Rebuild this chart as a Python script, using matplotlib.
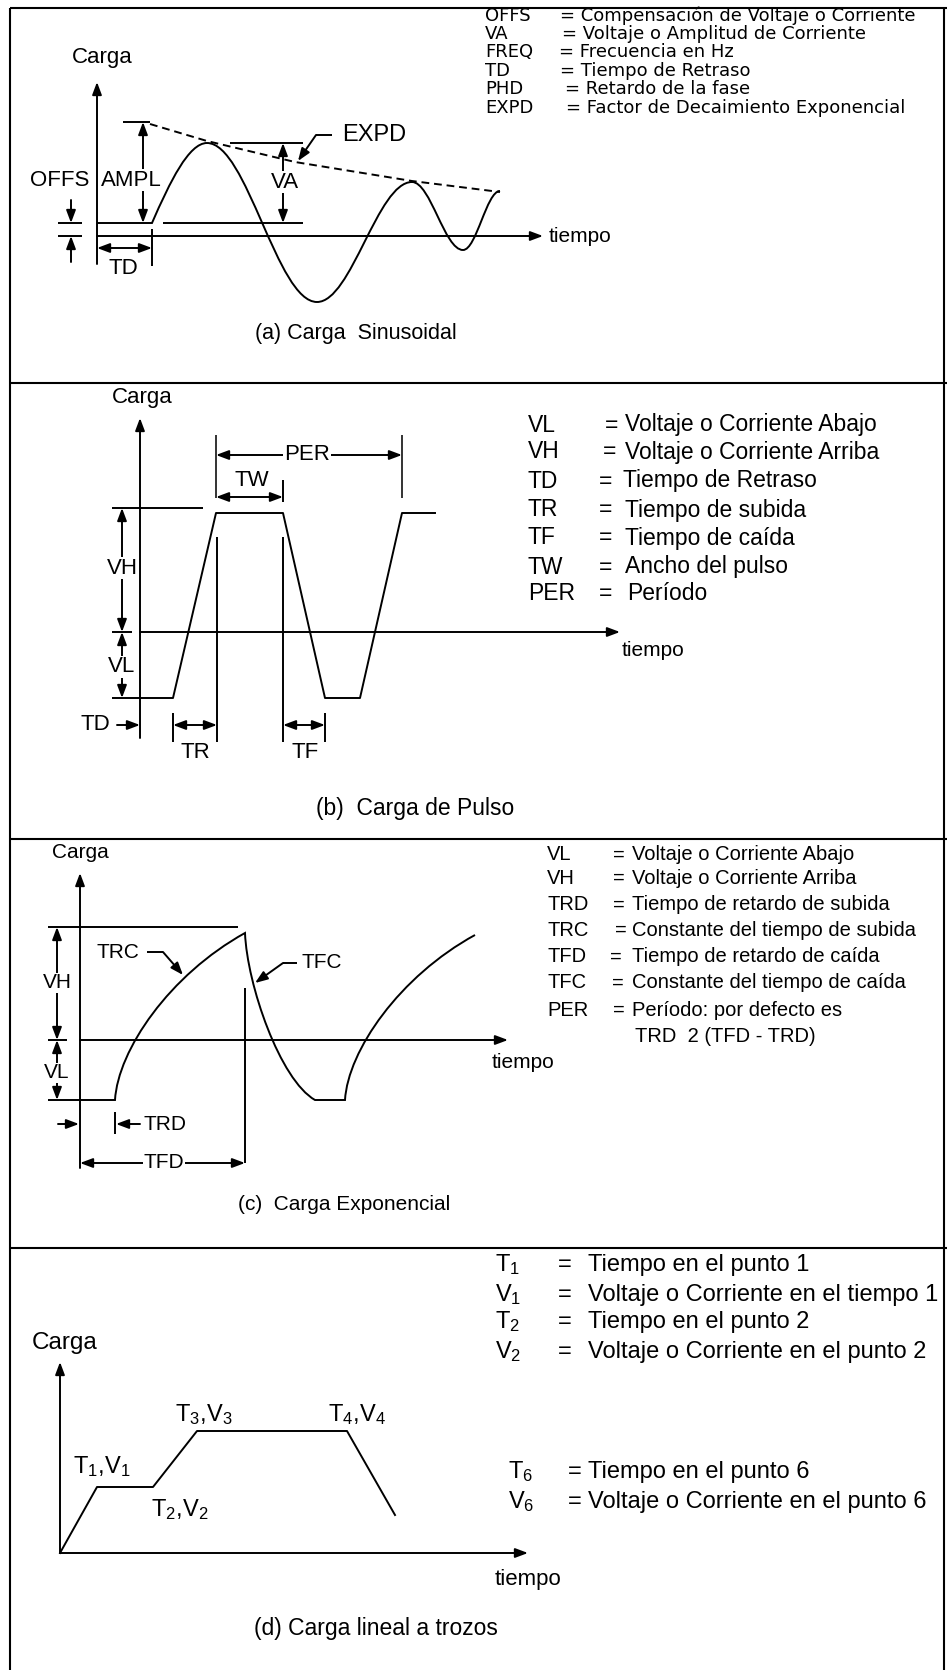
import matplotlib
matplotlib.use('Agg')
import matplotlib.pyplot as plt
from matplotlib.patches import FancyArrowPatch, PathPatch
from matplotlib.path import Path

plt.rcParams['font.family'] = ['Liberation Sans', 'DejaVu Sans']
plt.rcParams['mathtext.fontset'] = 'custom'
plt.rcParams['mathtext.rm'] = 'Liberation Sans'
plt.rcParams['mathtext.it'] = 'Liberation Sans:italic'
plt.rcParams['mathtext.bf'] = 'Liberation Sans:bold'

# ---------------- data ----------------
panel_dividers_y = [383, 839, 1248]
captions = ['(a) Carga  Sinusoidal', '(b)  Carga de Pulso',
            '(c)  Carga Exponencial', '(d) Carga lineal a trozos']

# (a) sinusoidal: start, extrema
sine_x = [152, 207, 317, 412, 463, 500]
sine_y = [223, 143, 302, 182, 250, 191]
envelope_x = [150, 207, 295, 412, 500]
envelope_y = [124, 141, 162, 181, 192]
legend_a_keys = ['OFFS', 'VA', 'FREQ', 'TD', 'PHD', 'EXPD']
legend_a_desc = ['Compensación de Voltaje o Corriente',
                 'Voltaje o Amplitud de Corriente',
                 'Frecuencia en Hz', 'Tiempo de Retraso',
                 'Retardo de la fase', 'Factor de Decaimiento Exponencial']

# (b) pulse
pulse_x = [140, 173, 216, 283, 325, 360, 402, 435]
pulse_y = [698, 698, 513, 513, 698, 698, 513, 513]
legend_b_keys = ['VL', 'VH', 'TD', 'TR', 'TF', 'TW', 'PER']
legend_b_desc = ['Voltaje o Corriente Abajo', 'Voltaje o Corriente Arriba',
                 'Tiempo de Retraso', 'Tiempo de subida', 'Tiempo de caída',
                 'Ancho del pulso', 'Período']

# (c) exponential: key points (flat, rise, fall, flat, rise)
exp_x = [80, 115, 245, 315, 345, 475]
exp_y = [1100, 1100, 933, 1100, 1100, 935]
legend_c_keys = ['VL', 'VH', 'TRD', 'TRC', 'TFD', 'TFC', 'PER']
legend_c_desc = ['Voltaje o Corriente Abajo', 'Voltaje o Corriente Arriba',
                 'Tiempo de retardo de subida', 'Constante del tiempo de subida',
                 'Tiempo de retardo de caída', 'Constante del tiempo de caída',
                 'Período: por defecto es']
legend_c_extra = 'TRD  2 (TFD - TRD)'

# (d) piecewise linear
pwl_x = [60, 97, 153, 197, 347, 395]
pwl_y = [1553, 1487, 1487, 1431, 1431, 1515]
pwl_labels = [r'T$_1$,V$_1$', r'T$_2$,V$_2$', r'T$_3$,V$_3$', r'T$_4$,V$_4$']
legend_d_keys = [r'T$_1$', r'V$_1$', r'T$_2$', r'V$_2$']
legend_d_desc = ['Tiempo en el punto 1', 'Voltaje o Corriente en el tiempo 1',
                 'Tiempo en el punto 2', 'Voltaje o Corriente en el punto 2']
legend_d6_keys = [r'T$_6$', r'V$_6$']
legend_d6_desc = ['Tiempo en el punto 6', 'Voltaje o Corriente en el punto 6']

# ---------------- figure ----------------
W, H = 947, 1670
fig = plt.figure(figsize=(W / 100, H / 100), dpi=100)
ax = fig.add_axes([0, 0, 1, 1])
ax.set_xlim(0, W)
ax.set_ylim(H, 0)
ax.axis('off')

LW = 1.4
K = 'k'


def seg(xs, ys, lw=LW, color=K, **kw):
    ax.plot(xs, ys, color=color, lw=lw, solid_capstyle='butt', **kw)


def arr(x0, y0, x1, y1, both=False, hl=0.75, hw=0.28, ms=10, lw=LW):
    style = ('<|-|>' if both else '-|>') + f',head_length={hl},head_width={hw}'
    p = FancyArrowPatch((x0, y0), (x1, y1), arrowstyle=style, mutation_scale=ms,
                        lw=lw, color=K, shrinkA=0, shrinkB=0)
    ax.add_patch(p)


def txt(x, y, s, size, ha='center', va='center', bg=False, family=None):
    kw = {}
    if bg:
        kw['bbox'] = dict(facecolor='white', edgecolor='none', pad=0.5)
    if family:
        kw['family'] = family
    ax.text(x, y, s, fontsize=size, ha=ha, va=va, color=K, zorder=5, **kw)


# ---------------- frame ----------------
seg([10, 10], [8, H], lw=1.5)
seg([944, 944], [8, H], lw=1.5)
seg([10, W], [8, 8], lw=1.5)
for yd in panel_dividers_y:
    seg([10, W], [yd, yd], lw=1.5)

# ---------------- panel (a) ----------------
txt(102, 57, 'Carga', 16)
arr(97, 264, 97, 82)
arr(97, 236, 543, 236)
txt(549, 236, 'tiempo', 15, ha='left')

verts = [(97, sine_y[0]), (sine_x[0], sine_y[0])]
codes = [Path.MOVETO, Path.LINETO]
x0, y0, x1, y1 = sine_x[0], sine_y[0], sine_x[1], sine_y[1]
dx, dy = x1 - x0, y1 - y0
verts += [(x0 + 0.33 * dx, y0 + 0.52 * dy), (x1 - 0.33 * dx, y1), (x1, y1)]
codes += [Path.CURVE4] * 3
for i in range(1, len(sine_x) - 1):
    x0, y0, x1, y1 = sine_x[i], sine_y[i], sine_x[i + 1], sine_y[i + 1]
    dx = x1 - x0
    verts += [(x0 + 0.3642 * dx, y0), (x1 - 0.3642 * dx, y1), (x1, y1)]
    codes += [Path.CURVE4] * 3
ax.add_patch(PathPatch(Path(verts, codes), fill=False, lw=LW, edgecolor=K))

ax.plot(envelope_x, envelope_y, color=K, lw=LW, linestyle=(0, (4, 2.5)))
seg([123, 150], [122, 122])
arr(143, 223, 143, 122, both=True)
txt(131, 180, 'AMPL', 16, bg=True)
txt(60, 180, 'OFFS', 16)
seg([58, 82], [223, 223])
seg([58, 82], [236, 236])
arr(71, 200, 71, 223)
arr(71, 262, 71, 236)
seg([152, 152], [229, 266])
arr(97, 248, 152, 248, both=True)
txt(123, 268, 'TD', 16)
seg([230, 303], [143, 143])
seg([163, 303], [223, 223])
arr(283, 143, 283, 223, both=True)
txt(285, 182, 'VA', 16, bg=True)
txt(374, 135, 'EXPD', 17)
seg([332, 316], [135, 135])
arr(316, 135, 298, 161)
txt(356, 333, captions[0], 15.5)

leg_a_y = [16, 34, 52, 71, 89, 108]
leg_a_eq = [560, 562, 559, 560, 565, 566]
for k, d, yy, xe in zip(legend_a_keys, legend_a_desc, leg_a_y, leg_a_eq):
    txt(485, yy, k, 13, ha='left', family='DejaVu Sans')
    txt(xe, yy, '= ' + d, 13, ha='left', family='DejaVu Sans')

# ---------------- panel (b) ----------------
txt(142, 398, 'Carga', 16)
arr(140, 738, 140, 418)
arr(140, 632, 620, 632)
txt(622, 650, 'tiempo', 15, ha='left')
ax.plot(pulse_x, pulse_y, color=K, lw=LW)
seg([112, 140], [698, 698])
seg([112, 203], [508, 508])
seg([112, 132], [632, 632])
arr(122, 508, 122, 632, both=True)
txt(122, 568, 'VH', 16, bg=True)
arr(122, 632, 122, 698, both=True)
txt(122, 667, 'VL', 16, bg=True)
seg([216, 216], [435, 498], color='#333333')
seg([402, 402], [435, 498], color='#333333')
arr(216, 455, 402, 455, both=True)
txt(307, 455, 'PER', 16, bg=True)
seg([283, 283], [480, 502])
arr(216, 497, 283, 497, both=True)
txt(252, 480, 'TW', 16)
seg([217, 217], [537, 742])
seg([173, 173], [713, 742])
arr(173, 725, 217, 725, both=True)
txt(195, 752, 'TR', 16)
seg([283, 283], [537, 742])
seg([325, 325], [713, 742])
arr(283, 725, 325, 725, both=True)
txt(305, 752, 'TF', 16)
arr(117, 725, 140, 725)
txt(95, 725, 'TD', 16)
txt(415, 808, captions[1], 16.5)

leg_b_y = [425, 452, 481, 510, 538, 567, 594]
leg_b_eq = [605, 603, 599, 599, 599, 599, 599]
leg_b_dx = [625, 625, 623, 625, 625, 625, 627]
for k, d, yy, xe, xd in zip(legend_b_keys, legend_b_desc, leg_b_y, leg_b_eq, leg_b_dx):
    txt(528, yy, k, 16.5, ha='left')
    txt(xe, yy, '=', 16.5, ha='left')
    txt(xd, yy, d, 16.5, ha='left')

# ---------------- panel (c) ----------------
txt(80, 852, 'Carga', 15)
arr(80, 1168, 80, 873)
arr(80, 1040, 508, 1040)
txt(492, 1063, 'tiempo', 15, ha='left')

verts = [(exp_x[0], exp_y[0]), (exp_x[1], exp_y[1])]
codes = [Path.MOVETO, Path.LINETO]
# rise
x0, y0, x1, y1 = exp_x[1], exp_y[1], exp_x[2], exp_y[2]
dx, dy = x1 - x0, y1 - y0
verts += [(x0 + 0.023 * dx, y0 + 0.30 * dy), (x0 + 0.42 * dx, y0 + 0.75 * dy), (x1, y1)]
codes += [Path.CURVE4] * 3
# fall
x0, y0, x1, y1 = exp_x[2], exp_y[2], exp_x[3], exp_y[3]
dx, dy = x1 - x0, y1 - y0
verts += [(x0 + 0.03 * dx, y0 + 0.31 * dy), (x0 + 0.5 * dx, y0 + 0.88 * dy), (x1, y1)]
codes += [Path.CURVE4] * 3
verts += [(exp_x[4], exp_y[4])]
codes += [Path.LINETO]
x0, y0, x1, y1 = exp_x[4], exp_y[4], exp_x[5], exp_y[5]
dx, dy = x1 - x0, y1 - y0
verts += [(x0 + 0.023 * dx, y0 + 0.30 * dy), (x0 + 0.42 * dx, y0 + 0.75 * dy), (x1, y1)]
codes += [Path.CURVE4] * 3
ax.add_patch(PathPatch(Path(verts, codes), fill=False, lw=LW, edgecolor=K))

seg([48, 238], [927, 927])
seg([48, 67], [1040, 1040])
seg([48, 80], [1100, 1100])
arr(57, 927, 57, 1040, both=True)
txt(57, 983, 'VH', 15, bg=True)
arr(57, 1040, 57, 1100, both=True)
txt(57, 1073, 'VL', 15, bg=True)
seg([245, 245], [988, 1163])
txt(118, 952, 'TRC', 15)
seg([147, 163], [952, 952])
arr(163, 952, 183, 975)
txt(322, 963, 'TFC', 15)
seg([297, 283], [963, 963])
arr(283, 963, 255, 983)
arr(58, 1124, 79, 1124)
seg([115, 115], [1112, 1134])
arr(140, 1124, 116, 1124)
txt(143, 1124, 'TRD', 15, ha='left')
arr(80, 1163, 245, 1163, both=True)
txt(164, 1163, 'TFD', 15, bg=True)
txt(344, 1205, captions[2], 15)

leg_c_y = [855, 878, 905, 930, 957, 983, 1010]
leg_c_eq = [613, 613, 613, 615, 610, 612, 613]
for k, d, yy, xe in zip(legend_c_keys, legend_c_desc, leg_c_y, leg_c_eq):
    txt(547, yy, k, 14.5, ha='left')
    txt(xe, yy, '=', 14.5, ha='left')
    txt(632, yy, d, 14.5, ha='left')
txt(635, 1037, legend_c_extra, 14.5, ha='left')

# ---------------- panel (d) ----------------
txt(65, 1343, 'Carga', 17.5)
arr(60, 1553, 60, 1362)
arr(60, 1553, 528, 1553)
txt(495, 1580, 'tiempo', 16, ha='left')
ax.plot(pwl_x, pwl_y, color=K, lw=LW)
for lab, (lx, ly) in zip(pwl_labels, [(102, 1467), (180, 1510), (204, 1415), (357, 1415)]):
    txt(lx, ly, lab, 17)
txt(376, 1628, captions[3], 16.5)

leg_d_y = [1265, 1295, 1322, 1352]
for k, d, yy in zip(legend_d_keys, legend_d_desc, leg_d_y):
    txt(495, yy, k, 17, ha='left')
    txt(558, yy, '=', 17, ha='left')
    txt(588, yy, d, 17, ha='left')
leg_d6_y = [1472, 1502]
for k, d, yy in zip(legend_d6_keys, legend_d6_desc, leg_d6_y):
    txt(508, yy, k, 17, ha='left')
    txt(568, yy, '=', 17, ha='left')
    txt(588, yy, d, 17, ha='left')

fig.savefig('out.png', dpi=100, facecolor='white')
